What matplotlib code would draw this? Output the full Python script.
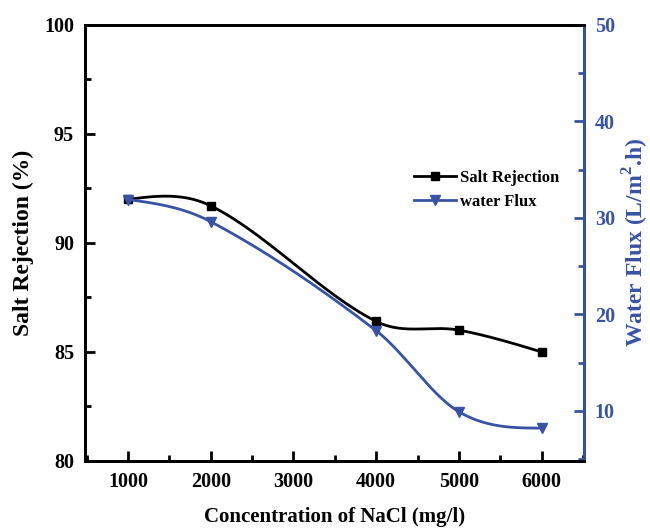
import numpy as np
import matplotlib as mpl
mpl.use('Agg')
import matplotlib.pyplot as plt
from matplotlib.ticker import MultipleLocator, AutoMinorLocator

plt.rcParams['font.family'] = ['Liberation Serif', 'DejaVu Serif']
plt.rcParams['font.weight'] = 'bold'
plt.rcParams['mathtext.fontset'] = 'custom'
plt.rcParams['mathtext.rm'] = 'Liberation Serif:bold'

conc = [1000, 2000, 4000, 5000, 6000]
salt_rejection = [92.0, 91.7, 86.4, 86.0, 85.0]
water_flux = [31.9, 29.6, 18.3, 9.9, 8.2]

BLUE = '#3953a4'


def smooth(x, y, n=60):
    # cubic hermite through the points, tangents from neighbours,
    # "natural" tangents at both ends -> looks like Origin's spline line
    x = np.asarray(x, float)
    y = np.asarray(y, float)
    k = len(x)
    m = np.zeros(k)
    for i in range(1, k - 1):
        m[i] = (y[i + 1] - y[i - 1]) / (x[i + 1] - x[i - 1])
    m[0] = (3 * (y[1] - y[0]) / (x[1] - x[0]) - m[1]) / 2
    m[-1] = (3 * (y[-1] - y[-2]) / (x[-1] - x[-2]) - m[-2]) / 2
    xs_all, ys_all = [], []
    for i in range(k - 1):
        h = x[i + 1] - x[i]
        t = np.linspace(0, 1, n)
        h00 = 2 * t**3 - 3 * t**2 + 1
        h10 = t**3 - 2 * t**2 + t
        h01 = -2 * t**3 + 3 * t**2
        h11 = t**3 - t**2
        xs_all.append(x[i] + t * h)
        ys_all.append(h00 * y[i] + h10 * h * m[i] + h01 * y[i + 1] + h11 * h * m[i + 1])
    return np.concatenate(xs_all), np.concatenate(ys_all)


fig = plt.figure(figsize=(6.5, 5.31), dpi=100)
ax = fig.add_axes([0.131, 0.132, 0.767, 0.821])
ax2 = ax.twinx()

xs, ys = smooth(conc, salt_rejection)
ax.plot(xs, ys, color='black', lw=2)
ax.plot(conc, salt_rejection, 's', color='black', ms=6)
xs2, ys2 = smooth(conc, water_flux)
ax2.plot(xs2, ys2, color=BLUE, lw=2)
ax2.plot(conc, water_flux, 'v', color=BLUE, ms=7)

ax.set_xlim(480, 6510)
ax.set_ylim(80, 100)
ax2.set_ylim(4.8, 50)

ax.xaxis.set_major_locator(MultipleLocator(1000))
ax.xaxis.set_minor_locator(AutoMinorLocator(2))
ax.yaxis.set_major_locator(MultipleLocator(5))
ax.yaxis.set_minor_locator(AutoMinorLocator(2))
ax2.yaxis.set_major_locator(MultipleLocator(10))
ax2.yaxis.set_minor_locator(AutoMinorLocator(2))

for a in (ax, ax2):
    for s in a.spines.values():
        s.set_linewidth(2)
ax2.spines['right'].set_color(BLUE)

ax.tick_params(which='major', direction='in', length=7, width=2, labelsize=14.5, pad=8)
ax.tick_params(which='minor', direction='in', length=4, width=2)
ax.tick_params(axis='x', top=False, which='both')
ax2.tick_params(which='major', direction='in', length=7, width=2, labelsize=14.5,
                colors=BLUE, pad=8)
ax2.tick_params(which='minor', direction='in', length=4, width=2, colors=BLUE)

ax.set_xlabel('Concentration of NaCl (mg/l)', fontsize=15, fontweight='bold', labelpad=11)
ax.set_ylabel('Salt Rejection (%)', fontsize=17, fontweight='bold', labelpad=7)
ax2.set_ylabel(r'Water Flux (L/m$^2$.h)', fontsize=17, fontweight='bold',
               color=BLUE, labelpad=4)

h1, = ax.plot([], [], '-s', color='black', lw=2, ms=6, label='Salt Rejection')
h2, = ax.plot([], [], '-v', color=BLUE, lw=2, ms=7, label='water Flux')
ax.legend(handles=[h1, h2], loc='upper left', bbox_to_anchor=(0.64, 0.69),
          frameon=False, fontsize=12, handlelength=2.5, handletextpad=0.25,
          labelspacing=0.45, borderpad=0.1)

plt.savefig('out.png', dpi=100)
